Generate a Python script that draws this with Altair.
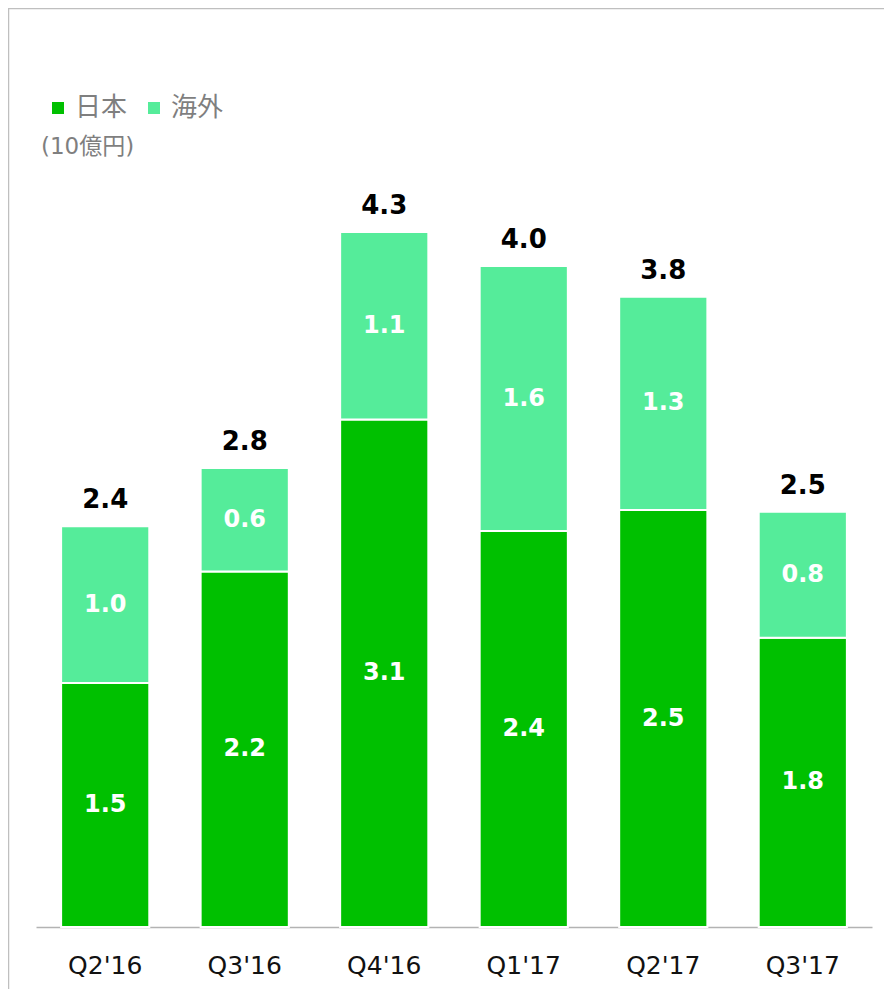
import altair as alt
import pandas as pd

quarters = ["Q2'16", "Q3'16", "Q4'16", "Q1'17", "Q2'17", "Q3'17"]
japan = [1.51, 2.20, 3.14, 2.45, 2.58, 1.79]
overseas = [0.97, 0.64, 1.16, 1.64, 1.32, 0.78]
japan_labels = ["1.5", "2.2", "3.1", "2.4", "2.5", "1.8"]
overseas_labels = ["1.0", "0.6", "1.1", "1.6", "1.3", "0.8"]
total_labels = ["2.4", "2.8", "4.3", "4.0", "3.8", "2.5"]
series = ["日本", "海外"]
colors = ["#00C000", "#55EC9A"]
unit_label = ["(10億円)"]

FONT = "DejaVu Sans, Noto Sans CJK JP, sans-serif"

rows = []
for i, q in enumerate(quarters):
    rows.append(dict(q=q, s=series[0], o=0, y0=0.0, y1=japan[i], mid=japan[i] / 2, lab=japan_labels[i]))
    rows.append(dict(q=q, s=series[1], o=1, y0=japan[i], y1=japan[i] + overseas[i],
                     mid=japan[i] + overseas[i] / 2, lab=overseas_labels[i]))
seg = pd.DataFrame(rows)
tot = pd.DataFrame(dict(q=quarters, total=[j + o for j, o in zip(japan, overseas)], lab=total_labels))

xenc = alt.X("q:N", sort=quarters,
             scale=alt.Scale(paddingInner=0.368, paddingOuter=0.18),
             axis=alt.Axis(title=None, labelAngle=0, ticks=False, domainColor="#b3b3b3",
                           domainWidth=1.5, labelFontSize=25, labelColor="#111111",
                           labelFont=FONT, labelPadding=26))
yscale = alt.Scale(domain=[0, 5], nice=False, zero=True)

bars = alt.Chart(seg).mark_bar(stroke="white", strokeWidth=2).encode(
    x=xenc,
    y=alt.Y("y0:Q", scale=yscale, axis=None),
    y2="y1:Q",
    color=alt.Color("s:N", scale=alt.Scale(domain=series, range=colors),
                    legend=alt.Legend(orient="none", legendX=9, legendY=-24, direction="horizontal",
                                      title=None, symbolType="square", symbolSize=144,
                                      symbolStrokeWidth=0, labelFontSize=26, labelColor="#7f7f7f",
                                      labelFont=FONT, labelOffset=4, columnPadding=13)),
)

seg_text = alt.Chart(seg).mark_text(color="white", fontWeight="bold", fontSize=24, font=FONT,
                                    baseline="middle").encode(
    x=alt.X("q:N", sort=quarters), y=alt.Y("mid:Q", scale=yscale), text="lab:N")

tot_text = alt.Chart(tot).mark_text(color="black", fontWeight="bold", fontSize=26, font=FONT,
                                    baseline="alphabetic", dy=-18).encode(
    x=alt.X("q:N", sort=quarters), y=alt.Y("total:Q", scale=yscale), text="lab:N")

unit = alt.Chart(pd.DataFrame({"t": unit_label})).mark_text(
    align="left", baseline="middle", fontSize=23, font=FONT, color="#7f7f7f").encode(
    text="t:N", x=alt.value(5), y=alt.value(28))

frame = alt.Chart(pd.DataFrame({"a": [0]})).mark_rect(
    filled=False, stroke="#bfbfbf", strokeWidth=1.5).encode(
    x=alt.value(-27.5), x2=alt.value(1000), y=alt.value(-110.5), y2=alt.value(1000))

chart = alt.layer(frame, bars, seg_text, tot_text, unit).properties(
    width=836, height=808,
    padding={"left": 28, "top": 111, "right": 12, "bottom": 62},
    autosize="none",
).configure_view(stroke=None)

chart.save("out.html", embed_options={"renderer": "svg", "actions": False})
